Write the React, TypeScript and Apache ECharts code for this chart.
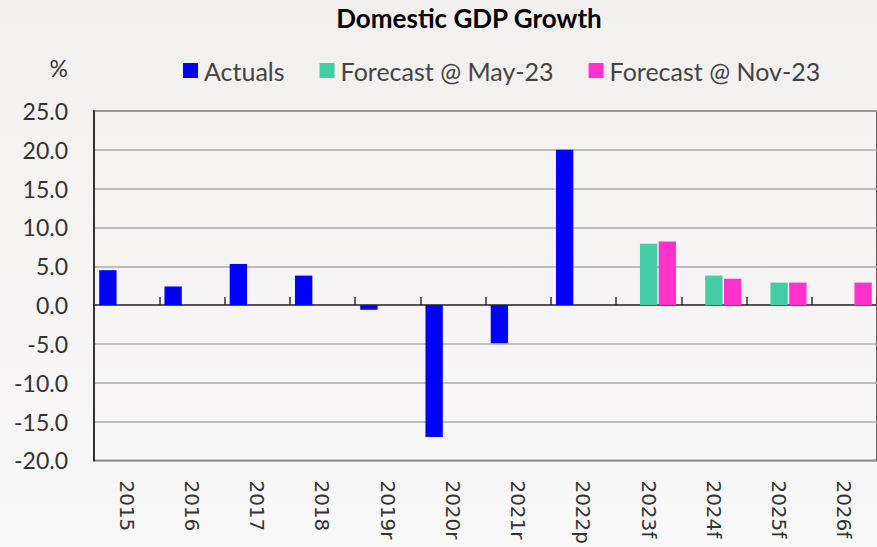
import React, { useEffect, useRef } from "react";
import * as echarts from "echarts";

const categories = ["2015", "2016", "2017", "2018", "2019r", "2020r", "2021r", "2022p", "2023f", "2024f", "2025f", "2026f"];
const actuals = [4.5, 2.4, 5.3, 3.8, -0.6, -17.0, -4.9, 20.0, null, null, null, null];
const forecastMay = [null, null, null, null, null, null, null, null, 7.9, 3.8, 2.9, null];
const forecastNov = [null, null, null, null, null, null, null, null, 8.2, 3.4, 2.9, 2.9];
const seriesNames = ["Actuals", "Forecast @ May-23", "Forecast @ Nov-23"];
const colors = ["#0000FF", "#44CCA4", "#FF33CC"];

export default function App() {
  const ref = useRef<HTMLDivElement>(null);
  useEffect(() => {
    if (!ref.current) return;
    const chart = echarts.init(ref.current, null, { renderer: "svg" });
    const dataSets = [actuals, forecastMay, forecastNov];
    chart.setOption({
      animation: false,
      backgroundColor: {
        type: "linear", x: 0, y: 0, x2: 0, y2: 1,
        colorStops: [
          { offset: 0, color: "#f2f0ef" },
          { offset: 1, color: "#f9f8f8" },
        ],
      },
      title: {
        text: "Domestic GDP Growth",
        left: 464,
        textAlign: "center",
        top: 0,
        textStyle: { fontFamily: "Lato", fontWeight: "bold", fontSize: 26, color: "#000" },
      },
      legend: {
        left: 178,
        top: 53,
        itemWidth: 15,
        itemHeight: 15,
        itemGap: 35,
        icon: "rect",
        data: seriesNames,
        textStyle: { fontFamily: "Lato", fontSize: 25, color: "#444", padding: [0, 0, 0, 1] },
      },
      grid: {
        left: 94,
        top: 111,
        right: -1,
        bottom: 84,
        show: true,
        borderColor: "#333",
        borderWidth: 1.5,
        backgroundColor: "transparent",
      },
      xAxis: [
        {
          type: "category",
          data: categories,
          position: "bottom",
          axisLine: { show: false, onZero: false },
          axisTick: { show: false },
          axisLabel: {
            rotate: -90,
            margin: 20,
            fontFamily: "DejaVu Sans",
            fontSize: 20,
            color: "#333",
          },
        },
        {
          type: "category",
          data: categories,
          position: "bottom",
          axisLine: { show: true, onZero: true, lineStyle: { color: "#333", width: 1.5 } },
          axisTick: { show: true, inside: true, length: 8, lineStyle: { color: "#333", width: 1.5 } },
          axisLabel: { show: false },
        },
      ],
      yAxis: {
        type: "value",
        min: -20,
        max: 25,
        interval: 5,
        name: "%",
        nameLocation: "end",
        nameGap: 43,
        nameTextStyle: {
          fontFamily: "Lato",
          fontSize: 23,
          color: "#333",
          align: "right",
          verticalAlign: "middle",
          padding: [0, 26, 0, 0],
        },
        axisLine: { show: true, lineStyle: { color: "#333", width: 2 } },
        axisTick: { show: false },
        axisLabel: {
          margin: 26,
          fontFamily: "Lato",
          fontSize: 23,
          color: "#333",
          formatter: (v: number) => v.toFixed(1),
        },
        splitLine: { show: true, lineStyle: { color: "#aaa", width: 1.5 } },
      },
      series: dataSets.map((d, i) => ({
        name: seriesNames[i],
        type: "bar",
        xAxisIndex: 0,
        data: d,
        barCategoryGap: "16%",
        barGap: "8%",
        itemStyle: { color: colors[i] },
      })),
    });
    return () => chart.dispose();
  }, []);
  return <div ref={ref} style={{ width: 877, height: 547, position: "absolute", left: 0, top: 0 }} />;
}
